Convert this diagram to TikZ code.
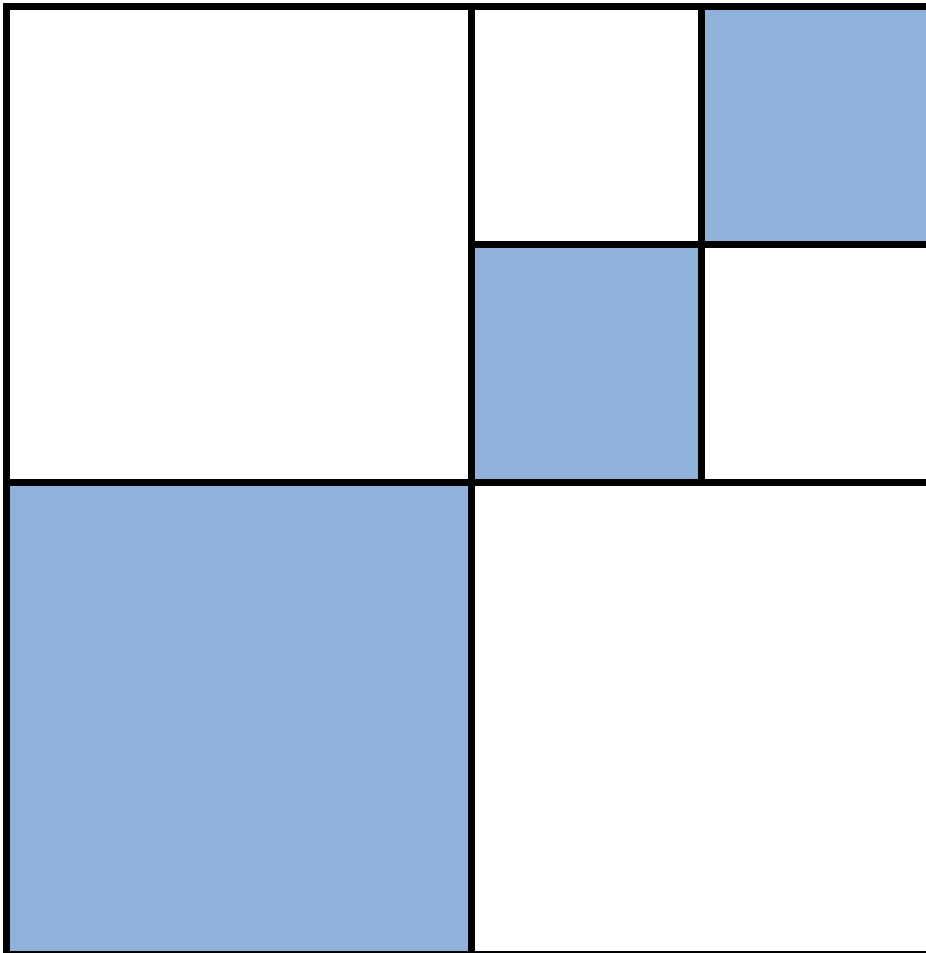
\documentclass[tikz,border=0pt]{standalone}
\definecolor{cellblue}{RGB}{143,177,218}
\tikzset{gridline/.style={line width=7pt,black}, bluecell/.style={fill=cellblue}}
\begin{document}
\begin{tikzpicture}[x=1pt,y=-1pt]
\useasboundingbox (0,0) rectangle (926,953);
\fill[white] (0,0) rectangle (926,953);
\fill[bluecell] (701,6.5) rectangle (936,244.5);
\fill[bluecell] (471,244.5) rectangle (701,482);
\fill[bluecell] (6.5,482) rectangle (471,954);
\coordinate (tl) at (6.5,6.5);
\coordinate (tr) at (940,6.5);
\coordinate (bl) at (6.5,954);
\coordinate (br) at (940,954);
\draw[gridline] (tr) -- (tl) -- (bl) -- (br);
\draw[gridline] (471,6.5) -- (471,954);
\draw[gridline] (6.5,482) -- (940,482);
\draw[gridline] (701,6.5) -- (701,482);
\draw[gridline] (471,244.5) -- (940,244.5);
\end{tikzpicture}
\end{document}
